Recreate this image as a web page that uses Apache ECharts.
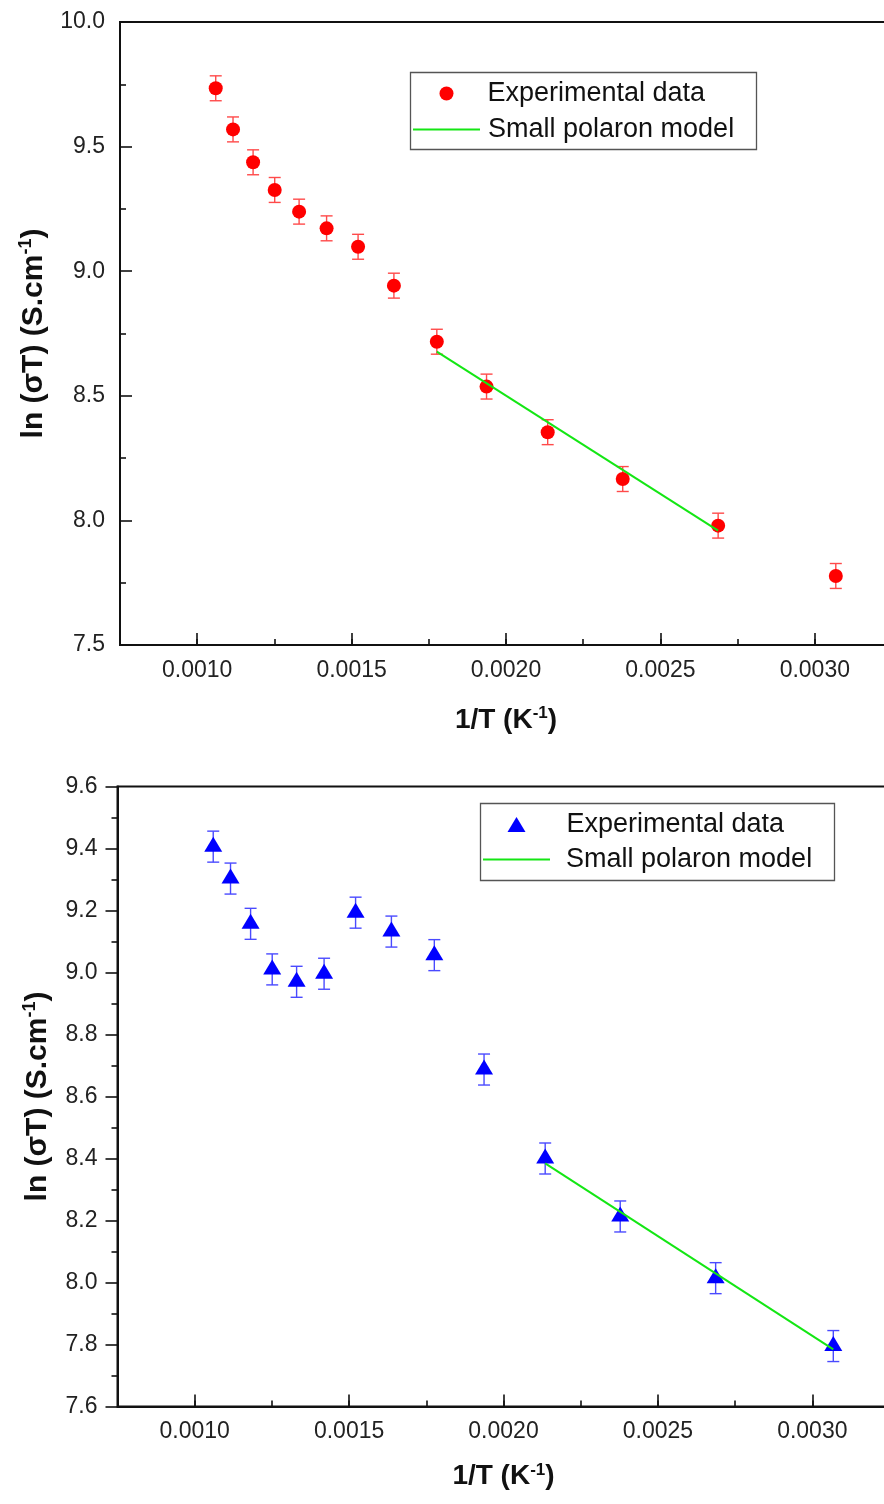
<!DOCTYPE html>
<html>
<head>
<meta charset="utf-8">
<script src="https://cdn.jsdelivr.net/npm/echarts@6/dist/echarts.min.js"></script>
<style>
  html, body { margin: 0; padding: 0; background: #ffffff; }
  #chart { width: 884px; height: 1504px; }
</style>
</head>
<body>
<div id="chart"></div>
<script>
// Inverse measurement temperature, 1/T (K^-1), same set for both samples
const invT = [0.001060, 0.001116, 0.001181, 0.001251, 0.001330, 0.001419, 0.001521,
              0.001637, 0.001776, 0.001937, 0.002135, 0.002378, 0.002687, 0.003068];

// ln(sigma*T) of the first sample and its uncertainty
const lnSigmaT_A = [9.734, 9.569, 9.437, 9.326, 9.239, 9.172, 9.098,
                    8.942, 8.717, 8.537, 8.354, 8.166, 7.979, 7.777];
const err_A = [0.05, 0.05, 0.05, 0.05, 0.05, 0.05, 0.05,
               0.05, 0.05, 0.05, 0.05, 0.05, 0.05, 0.05];

// ln(sigma*T) of the second sample and its uncertainty
const lnSigmaT_B = [9.406, 9.303, 9.157, 9.010, 8.970, 8.996, 9.193,
                    9.132, 9.056, 8.687, 8.400, 8.213, 8.014, 7.795];
const err_B = [0.05, 0.05, 0.05, 0.05, 0.05, 0.05, 0.05,
               0.05, 0.05, 0.05, 0.05, 0.05, 0.05, 0.05];

// Small polaron model (straight line in 1/T), end points of each fit
const fitA_x = [0.001776, 0.002687];
const fitA_y = [8.677, 7.959];
const fitB_x = [0.002135, 0.003068];
const fitB_y = [8.384, 7.784];

// Axis ranges
const xRange = { min: 0.00075, max: 0.00325, minorStep: 0.00025 };
const yRangeA = { min: 7.5, max: 10.0, step: 0.5 };
const yRangeB = { min: 7.6, max: 9.6, step: 0.2 };

// Legend entries
const legendLabels = {
  expA: 'Experimental data', fitA: 'Small polaron model',
  expB: 'Experimental data', fitB: 'Small polaron model'
};

const FONT = '"Liberation Sans", Arial, sans-serif';
const INK = '#111111';
const GREEN = '#14e614';

const pairs = (xs, ys) => xs.map((x, i) => [x, ys[i]]);

function errorBars(xi, yi, xs, ys, errs, color) {
  return {
    type: 'custom',
    xAxisIndex: xi, yAxisIndex: yi,
    z: 2, silent: true,
    data: xs.map((x, i) => [x, ys[i] - errs[i], ys[i] + errs[i]]),
    encode: { x: 0, y: [1, 2] },
    renderItem(params, api) {
      const lo = api.coord([api.value(0), api.value(1)]);
      const hi = api.coord([api.value(0), api.value(2)]);
      const hw = 6;
      const st = { stroke: color, lineWidth: 1.4, fill: null };
      return {
        type: 'group',
        children: [
          { type: 'line', shape: { x1: lo[0], y1: lo[1], x2: hi[0], y2: hi[1] }, style: st },
          { type: 'line', shape: { x1: lo[0] - hw, y1: lo[1], x2: lo[0] + hw, y2: lo[1] }, style: st },
          { type: 'line', shape: { x1: hi[0] - hw, y1: hi[1], x2: hi[0] + hw, y2: hi[1] }, style: st }
        ]
      };
    }
  };
}

const supRich = (size) => ({
  sup: { fontSize: size, fontWeight: 'bold', fontFamily: FONT, color: INK, verticalAlign: 'top', lineHeight: size + 2 }
});

function mainXAxis(gridIndex, nameGap, labelMargin) {
  return {
    type: 'value', gridIndex, position: 'bottom',
    min: xRange.min, max: xRange.max,
    axisLine: { show: true, onZero: false, lineStyle: { color: INK, width: 2 } },
    axisTick: { show: true, inside: true, length: 12, lineStyle: { color: INK, width: 1.6 } },
    minorTick: { show: false },
    splitLine: { show: false },
    axisLabel: {
      show: true, margin: labelMargin, fontSize: 23, fontFamily: FONT, color: '#222',
      showMinLabel: false, showMaxLabel: false,
      formatter: (v) => v.toFixed(4)
    },
    name: '1/T (K{sup|-1})',
    nameLocation: 'middle', nameGap,
    nameTextStyle: {
      fontSize: 28, fontWeight: 'bold', fontFamily: FONT, color: INK, lineHeight: 30,
      rich: supRich(17)
    }
  };
}

function minorXAxis(gridIndex) {
  return {
    type: 'value', gridIndex, position: 'bottom',
    min: xRange.min, max: xRange.max, interval: xRange.minorStep,
    axisLine: { show: false, onZero: false },
    axisTick: { show: true, inside: true, length: 6, lineStyle: { color: INK, width: 1.6 } },
    axisLabel: { show: false },
    splitLine: { show: false }
  };
}

function yAxis(gridIndex, range, inside, labelMargin, nameGap) {
  return {
    type: 'value', gridIndex, position: 'left',
    min: range.min, max: range.max, interval: range.step,
    axisLine: { show: true, onZero: false, lineStyle: { color: INK, width: 2 } },
    axisTick: { show: true, inside, length: 12, lineStyle: { color: INK, width: 1.6 } },
    minorTick: { show: true, splitNumber: 2, length: 6, lineStyle: { color: INK, width: 1.6 } },
    splitLine: { show: false },
    axisLabel: {
      margin: labelMargin, fontSize: 23, fontFamily: FONT, color: '#222',
      formatter: (v) => v.toFixed(1)
    },
    name: 'ln (σT) (S.cm{sup|-1})',
    nameLocation: 'middle', nameGap, nameRotate: 90,
    nameTextStyle: {
      fontSize: 30, fontWeight: 'bold', fontFamily: FONT, color: INK, lineHeight: 32,
      rich: supRich(18)
    }
  };
}

// One legend per entry so each icon keeps its own size
function legendItem(name, icon, left, top, w, h, textPad) {
  return {
    orient: 'vertical', left, top, z: 6,
    data: [{ name, icon }],
    itemWidth: w, itemHeight: h,
    padding: 0,
    borderWidth: 0,
    backgroundColor: 'transparent',
    itemStyle: { opacity: 1 },
    formatter: (n) => legendLabels[n],
    textStyle: { fontSize: 27, fontFamily: FONT, color: INK, lineHeight: 26, padding: [0, 0, 0, textPad] }
  };
}

const chart = echarts.init(document.getElementById('chart'), null, { renderer: 'canvas' });

chart.setOption({
  animation: false,
  backgroundColor: '#ffffff',
  textStyle: { fontFamily: FONT },
  grid: [
    { left: 120, top: 22, width: 772, height: 623, show: true, borderColor: INK, borderWidth: 2,
      backgroundColor: 'transparent', containLabel: false, outerBoundsMode: 'none' },
    { left: 117.5, top: 786.5, width: 772, height: 620, show: true, borderColor: INK, borderWidth: 2,
      backgroundColor: 'transparent', containLabel: false, outerBoundsMode: 'none' }
  ],
  xAxis: [
    mainXAxis(0, 60, 14),
    minorXAxis(0),
    mainXAxis(1, 55, 14),
    minorXAxis(1)
  ],
  yAxis: [
    yAxis(0, yRangeA, true, 15, 69),
    yAxis(1, yRangeB, false, 20, 64)
  ],
  // legend frames
  graphic: [
    { type: 'rect', z: 3, silent: true,
      shape: { x: 410.5, y: 72.5, width: 346, height: 77 },
      style: { fill: '#ffffff', stroke: '#555555', lineWidth: 1.3 } },
    { type: 'rect', z: 3, silent: true,
      shape: { x: 480.5, y: 803.5, width: 354, height: 77 },
      style: { fill: '#ffffff', stroke: '#555555', lineWidth: 1.3 } }
  ],
  legend: [
    legendItem('expA', 'circle', 439.5, 80, 14, 14, 29),
    legendItem('fitA', 'rect', 413, 116, 67, 2, 3),
    legendItem('expB', 'triangle', 507.5, 811, 18, 15, 36),
    legendItem('fitB', 'rect', 483, 846, 67, 2, 11)
  ],
  series: [
    errorBars(0, 0, invT, lnSigmaT_A, err_A, '#ff4a4a'),
    {
      name: 'expA', type: 'scatter', xAxisIndex: 0, yAxisIndex: 0, z: 3,
      symbol: 'circle', symbolSize: 14,
      itemStyle: { color: '#ff0000', opacity: 1 },
      data: pairs(invT, lnSigmaT_A)
    },
    {
      name: 'fitA', type: 'line', xAxisIndex: 0, yAxisIndex: 0, z: 4,
      symbol: 'none', showSymbol: false,
      lineStyle: { color: GREEN, width: 2 },
      itemStyle: { color: GREEN },
      data: pairs(fitA_x, fitA_y)
    },
    errorBars(2, 1, invT, lnSigmaT_B, err_B, '#4a4aff'),
    {
      name: 'expB', type: 'scatter', xAxisIndex: 2, yAxisIndex: 1, z: 3,
      symbol: 'triangle', symbolSize: [18, 15], symbolOffset: [0, -2.5],
      itemStyle: { color: '#0000ff', opacity: 1 },
      data: pairs(invT, lnSigmaT_B)
    },
    {
      name: 'fitB', type: 'line', xAxisIndex: 2, yAxisIndex: 1, z: 4,
      symbol: 'none', showSymbol: false,
      lineStyle: { color: GREEN, width: 2 },
      itemStyle: { color: GREEN },
      data: pairs(fitB_x, fitB_y)
    }
  ]
});
</script>
</body>
</html>
